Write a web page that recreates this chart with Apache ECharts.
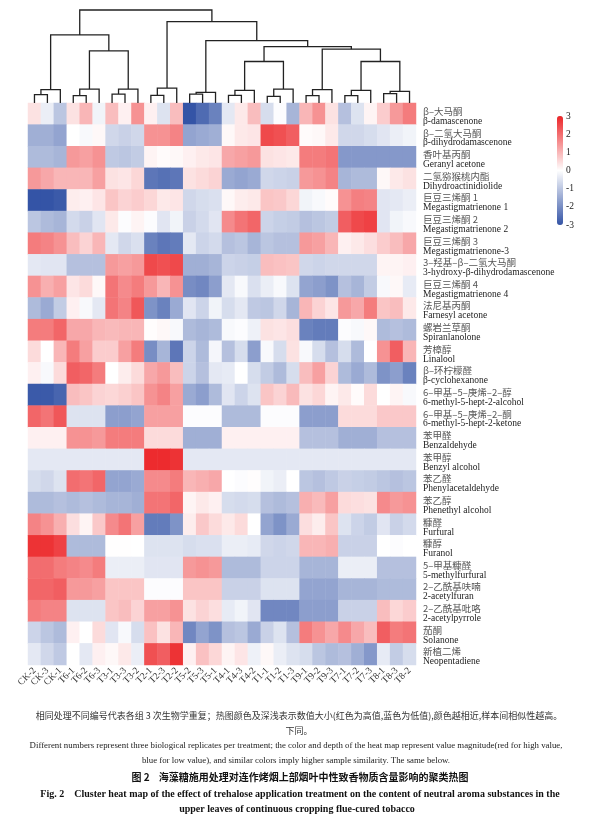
<!DOCTYPE html>
<html>
<head>
<meta charset="utf-8">
<title>聚类热图</title>
<script src="https://cdn.jsdelivr.net/npm/echarts/dist/echarts.min.js"></script>
<style>
  html, body { margin: 0; padding: 0; background: #fff; }
  #main { width: 589px; height: 824px; }
</style>
</head>
<body>
<div id="main"></div>
<script>
// column order after clustering
var samples = ['CK-2', 'CK-3', 'CK-1', 'T6-1', 'T6-2', 'T6-3', 'T3-1', 'T3-3', 'T3-2',
  'T2-1', 'T2-3', 'T2-2', 'T5-2', 'T5-3', 'T5-1', 'T4-1', 'T4-3', 'T4-2',
  'T1-1', 'T1-2', 'T1-3', 'T9-1', 'T9-2', 'T9-3', 'T7-1', 'T7-2', 'T7-3',
  'T8-1', 'T8-3', 'T8-2'];

var namesCn = ['β–大马酮', 'β–二氢大马酮', '香叶基丙酮', '二氢猕猴桃内酯', '巨豆三烯酮 1',
  '巨豆三烯酮 2', '巨豆三烯酮 3', '3–羟基–β–二氢大马酮', '巨豆三烯酮 4', '法尼基丙酮',
  '螺岩兰草酮', '芳樟醇', 'β–环柠檬醛', '6–甲基–5–庚烯–2–醇', '6–甲基–5–庚烯–2–酮',
  '苯甲醛', '苯甲醇', '苯乙醛', '苯乙醇', '糠醛', '糠醇', '5–甲基糠醛', '2–乙酰基呋喃',
  '2–乙酰基吡咯', '茄酮', '新植二烯'];

var namesEn = ['β-damascenone', 'β-dihydrodamascenone', 'Geranyl acetone', 'Dihydroactinidiolide',
  'Megastigmatrienone 1', 'Megastigmatrienone 2', 'Megastigmatrienone-3',
  '3-hydroxy-β-dihydrodamascenone', 'Megastigmatrienone 4', 'Farnesyl acetone',
  'Spiranlanolone', 'Linalool', 'β-cyclohexanone', '6-methyl-5-hept-2-alcohol',
  '6-methyl-5-hept-2-ketone', 'Benzaldehyde', 'Benzyl alcohol', 'Phenylacetaldehyde',
  'Phenethyl alcohol', 'Furfural', 'Furanol', '5-methylfurfural', '2-acetylfuran',
  '2-acetylpyrrole', 'Solanone', 'Neopentadiene'];

// z-scores, one row per compound, columns in sample order
var values = [
  [0.4, -0.3, -1.0, 0.4, 1.0, -0.2, 0.9, 0.2, 1.5, 0.2, -0.5, 0.9, -3, -2.6, -2.2, -0.4, 0.3, 0.9, -0.6, -0.05, -1.3, 1.0, 1.5, 0.4, -1.1, -0.5, 0.15, 0.7, 1.4, 1.8],
  [-1.4, -1.4, -1.6, 0, -0.1, 0.1, -0.7, -0.8, -0.7, 1.5, 1.5, 1.7, -1.6, -1.5, -1.4, 0.1, 0.3, 0.35, 2.5, 2.4, 2.2, 0.05, 0.1, 0.3, -0.7, -0.7, -0.6, -0.45, -0.3, -0.2],
  [-1.2, -1.2, -1.3, 1.4, 1.3, 1.5, -0.95, -1.0, -0.9, 0.15, 0.05, 0.1, 0.2, 0.3, 0.35, 1.2, 1.3, 1.4, 0.4, 0.35, 0.3, 1.8, 1.8, 1.9, -1.8, -1.8, -1.8, -1.8, -1.8, -1.8],
  [1.4, 1.2, 1.0, 1.0, 1.0, 1.3, 0.4, 0.35, 0.55, -2.4, -2.5, -2.4, 0.4, 0.5, 0.6, -1.5, -1.6, -1.5, -0.7, -0.75, -0.8, 1.4, 1.5, 1.7, -1.3, -1.2, -1.2, 0.1, 0.3, 0.4],
  [-3, -3, -2.9, 0.25, 0.2, 0.35, 0.8, 0.6, 0.7, 0.55, 0.3, 0.35, -0.7, -0.6, -0.55, 0.1, 0.25, 0.3, 0.8, 0.75, 0.55, -0.2, -0.1, 0.05, 1.5, 1.75, 1.7, -0.45, -0.4, -0.3],
  [-1.0, -1.2, -1.3, -0.65, -0.8, -0.45, 0.3, -0.05, 0.15, -0.05, -0.45, -0.2, -0.8, -0.65, -0.45, 1.6, 1.9, 2.1, -0.75, -0.85, -0.9, -1.1, -1.0, -0.9, 2.2, 2.5, 2.6, -0.45, -0.2, -0.1],
  [1.8, 1.7, 1.5, 0.9, 0.6, 1.0, -0.4, -0.7, -0.55, -2.2, -2.4, -2.3, -0.4, -0.75, -0.65, -1.1, -1.0, -1.3, -1.0, -1.1, -1.1, 1.4, 1.3, 1.0, 0.2, 0.3, 0.45, 0.7, 0.9, 1.2],
  [-0.4, -0.45, -0.45, -1.1, -1.1, -1.1, 1.4, 1.3, 1.4, 2.5, 2.4, 2.5, -1.4, -1.4, -1.3, -0.75, -0.8, -0.85, 0.9, 0.85, 0.8, -0.7, -0.75, -0.7, -0.7, -0.7, -0.7, 0.15, 0.15, 0.2],
  [1.5, 1.1, 1.3, 0.35, 0.5, 0.1, 1.9, 1.6, 1.8, 1.4, 1.0, 1.5, -2.0, -2.1, -1.7, -0.4, -0.1, -0.55, -0.3, -0.1, -0.5, -1.6, -1.7, -1.9, -1.1, -1.3, -0.9, -0.1, 0.1, -0.35],
  [-1.2, -1.5, -0.9, 0.2, -0.1, -0.4, 1.9, 1.7, 2.3, -1.9, -2.2, -1.5, -0.45, -0.75, -0.2, -0.6, -0.4, -0.95, -1.0, -0.7, -1.3, 1.0, 0.6, 0.35, 1.4, 1.2, 1.8, 0.8, 0.9, 0.3],
  [1.8, 1.8, 2.1, 1.2, 1.2, 1.0, 0.95, 1.0, 1.0, 0.03, 0.1, -0.1, -1.2, -1.3, -1.2, -0.1, -0.05, -0.25, 0.4, 0.35, 0.45, -2.2, -2.3, -2.3, -0.05, -0.1, 0.1, -1.2, -1.1, -1.2],
  [0.5, 0, 1.0, 1.8, 1.3, 0.7, 0.7, 1.3, 1.8, -2.0, -1.3, -2.4, -0.75, -1.2, -0.15, -1.1, -0.6, -1.7, -0.1, -0.6, 0.4, -0.1, -0.6, -1.1, -0.6, -1.2, 0, 1.5, 2.2, 1.0],
  [0.2, -0.1, 0.5, 2.2, 2.1, 1.8, 0, 0.25, 0.5, 1.2, 1.4, 0.9, -0.75, -1.1, -0.4, -0.35, 0, -0.6, -0.9, -1.2, -0.6, 0.9, 1.3, 0.6, -1.2, -1.5, -1.2, -1.9, -1.7, -2.2],
  [-2.9, -2.9, -2.7, 0.9, 0.8, 0.6, 0.55, 0.65, 0.8, 1.5, 1.7, 1.3, -1.5, -1.7, -1.2, -0.45, -0.75, -0.5, 0.8, 0.6, 0.95, 0.4, 0.55, 0.15, 0.3, 0.05, 0.5, 0, 0.15, -0.1],
  [2.1, 1.9, 2.3, -0.5, -0.5, -0.5, -1.7, -1.7, -1.6, 1.3, 1.3, 1.3, -0.05, -0.05, -0.05, -1.2, -1.2, -1.2, -0.05, -0.05, -0.05, -1.7, -1.7, -1.7, 0.5, 0.5, 0.5, 0.75, 0.75, 0.75],
  [0.2, 0.2, 0.2, 1.5, 1.5, 1.4, 1.8, 1.8, 1.8, 0.5, 0.5, 0.5, -1.4, -1.4, -1.4, 0.2, 0.2, 0.2, 0.2, 0.2, 0.2, -1.1, -1.1, -1.1, -1.4, -1.4, -1.4, -1.1, -1.1, -1.1],
  [-0.4, -0.4, -0.4, -0.4, -0.4, -0.4, -0.4, -0.4, -0.4, 2.9, 2.9, 2.8, -0.4, -0.4, -0.4, -0.4, -0.4, -0.4, -0.4, -0.4, -0.4, -0.4, -0.4, -0.4, -0.4, -0.4, -0.4, -0.4, -0.4, -0.4],
  [-0.6, -0.7, -0.5, 2.0, 1.9, 2.1, -1.6, -1.6, -1.5, 1.6, 1.6, 1.8, 1.0, 1.1, 1.2, 0, -0.05, 0.03, -0.2, -0.3, 0, -1.0, -1.1, -0.95, -0.8, -0.85, -0.9, -1.0, -1.1, -1.0],
  [-1.2, -1.2, -1.1, -1.2, -1.1, -1.2, -1.3, -1.3, -1.4, 1.9, 1.9, 2.1, 0.15, 0.3, 0.2, -0.6, -0.65, -0.6, -1.1, -1.2, -1.1, 1.1, 0.95, 1.3, 0.5, 0.45, 0.4, 1.6, 1.4, 1.5],
  [1.7, 1.5, 1.1, 0.45, 0.15, 0.75, 1.6, 1.9, 1.3, -2.3, -2.3, -1.9, 0.25, 0.75, 0.5, 0.3, 0.5, 0, -1.6, -1.9, -1.5, 0.45, 0.25, 0.8, -0.5, -0.75, -0.9, -0.45, -0.8, -0.65],
  [2.8, 2.8, 2.6, -1.2, -1.2, -1.2, 0.02, 0.02, 0, -0.5, -0.5, -0.5, -0.6, -0.55, -0.55, -0.3, -0.3, -0.35, -0.7, -0.75, -0.7, 1.0, 1.0, 1.1, -0.8, -0.8, -0.8, 0, -0.05, 0],
  [2.0, 2.0, 1.8, 1.7, 1.6, 1.8, -0.3, -0.3, -0.3, -0.45, -0.45, -0.45, 1.4, 1.5, 1.4, -1.2, -1.2, -1.2, -0.75, -0.75, -0.75, -1.3, -1.3, -1.3, -0.3, -0.3, -0.3, -1.1, -1.1, -1.1],
  [2.1, 2.1, 2.2, 1.4, 1.4, 1.3, 0.8, 0.8, 0.8, -0.05, -0.05, -0.05, 0.8, 0.8, 0.8, -0.8, -0.8, -0.8, -0.5, -0.5, -0.5, -1.6, -1.6, -1.6, -1.3, -1.3, -1.3, -1.2, -1.2, -1.2],
  [1.8, 1.7, 1.7, -0.5, -0.5, -0.5, 0.8, 0.9, 0.6, 1.3, 1.3, 1.5, 0.4, 0.6, 0.45, -0.35, -0.2, -0.45, -2.1, -2.1, -2.1, -1.7, -1.7, -1.7, -0.8, -0.8, -0.8, 0.9, 0.55, 0.7],
  [-0.75, -1.0, -1.2, 0.2, 0, 0.5, -0.45, -0.1, -0.6, 0.85, 0.4, 1.0, -2.1, -1.6, -1.9, -1.1, -1.0, -1.5, -0.8, -0.5, -1.1, 1.8, 1.5, 1.2, 1.6, 1.2, 0.9, 2.2, 1.8, 1.9],
  [-0.4, -0.7, -0.95, 0, -0.4, 0.2, 0.1, 0.3, -0.3, 2.4, 2.2, 2.8, 0.2, 0.85, 0.55, 0.15, 0.35, -0.25, 0.1, -0.3, -0.5, -0.6, -1.0, -1.2, -1.1, -1.4, -1.8, -0.35, -0.9, -0.6]
];

// column linkage: [node a, node b, height]; leaves 0-29, merges numbered from 30
var linkage = [
  [0, 1, 0.89], [30, 2, 1.43],
  [3, 4, 0.79], [32, 5, 1.5],
  [6, 7, 0.96], [34, 8, 1.5],
  [33, 35, 5.6], [31, 36, 7.32],
  [9, 10, 0.82], [38, 11, 1.61],
  [12, 13, 0.96], [40, 14, 1.14],
  [15, 16, 0.82], [42, 17, 1.36],
  [18, 19, 0.71], [44, 20, 1.5],
  [43, 45, 4.46],
  [21, 22, 0.79], [47, 23, 1.43],
  [24, 25, 0.79], [49, 26, 1.36],
  [27, 28, 1.0], [51, 29, 1.25],
  [50, 52, 4.46], [48, 53, 5.79],
  [46, 54, 6.07], [41, 55, 6.71],
  [39, 56, 8.75], [37, 57, 10]
];

var scaleColors = ['#3454a6', '#ffffff', '#ec2427'];

var serif = '"Liberation Serif", "DejaVu Serif", serif';
var cjk = '"Noto Sans CJK SC", sans-serif';

// heatmap cells
var heatData = [];
for (var r = 0; r < values.length; r++) {
  for (var c = 0; c < samples.length; c++) {
    heatData.push([c, r, values[r][c]]);
  }
}

// one U per merge: [xa, ha, xb, hb, h]
function dendroSegments() {
  var pos = [], hgt = [];
  for (var i = 0; i < samples.length; i++) {
    pos.push(i);
    hgt.push(0);
  }
  var segs = [];
  linkage.forEach(function (m) {
    var a = m[0], b = m[1], h = m[2];
    segs.push([pos[a], hgt[a], pos[b], hgt[b], h]);
    pos.push((pos[a] + pos[b]) / 2);
    hgt.push(h);
  });
  return segs;
}

var chart = echarts.init(document.getElementById('main'), null, { renderer: 'canvas' });

var option = {
  backgroundColor: '#fff',
  animation: false,
  grid: [
    { left: 28, top: 103, width: 388, height: 562 },   // heatmap
    { left: 28, top: 10, width: 388, height: 93 },     // dendrogram
    { left: 557, top: 116, width: 6, height: 109 }     // colour bar ticks
  ],
  xAxis: [
    {
      gridIndex: 0,
      type: 'category',
      data: samples,
      position: 'bottom',
      axisLine: { show: false },
      axisTick: { show: false },
      axisLabel: {
        rotate: 45,
        interval: 0,
        margin: 4,
        fontSize: 9.5,
        color: '#333',
        fontFamily: serif
      }
    },
    { gridIndex: 1, type: 'value', min: -0.5, max: samples.length - 0.5, show: false },
    { gridIndex: 2, type: 'value', show: false }
  ],
  yAxis: [
    {
      gridIndex: 0,
      type: 'category',
      data: namesEn,
      inverse: true,
      position: 'right',
      axisLine: { show: false },
      axisTick: { show: false },
      axisLabel: {
        interval: 0,
        margin: 7,
        padding: [5, 0, 0, 0],
        formatter: function (value, index) {
          return '{cn|' + namesCn[index] + '}\n{en|' + value + '}';
        },
        rich: {
          cn: { fontSize: 9.5, lineHeight: 10, color: '#555', fontFamily: cjk },
          en: { fontSize: 9.5, lineHeight: 10, color: '#222', fontFamily: serif }
        }
      }
    },
    { gridIndex: 1, type: 'value', min: 0, max: 10, show: false },
    {
      gridIndex: 2,
      type: 'value',
      min: -3,
      max: 3,
      interval: 1,
      position: 'right',
      axisLine: { show: false },
      axisTick: { show: false },
      splitLine: { show: false },
      axisLabel: { margin: 3, fontSize: 9.5, color: '#222', fontFamily: serif }
    }
  ],
  visualMap: {
    type: 'continuous',
    seriesIndex: 0,
    min: -3,
    max: 3,
    orient: 'vertical',
    left: 557,
    top: 116,
    itemWidth: 6,
    itemHeight: 109,
    padding: 0,
    calculable: false,
    inRange: { color: scaleColors }
  },
  series: [
    {
      type: 'heatmap',
      xAxisIndex: 0,
      yAxisIndex: 0,
      data: heatData,
      itemStyle: { borderWidth: 0 }
    },
    {
      type: 'custom',
      xAxisIndex: 1,
      yAxisIndex: 1,
      data: dendroSegments(),
      encode: { x: [0, 2], y: [1, 3, 4] },
      renderItem: function (params, api) {
        var p1 = api.coord([api.value(0), api.value(1)]);
        var p2 = api.coord([api.value(0), api.value(4)]);
        var p3 = api.coord([api.value(2), api.value(4)]);
        var p4 = api.coord([api.value(2), api.value(3)]);
        return {
          type: 'polyline',
          shape: { points: [p1, p2, p3, p4] },
          style: { stroke: '#222', lineWidth: 1.3, fill: 'none' }
        };
      }
    }
  ],
  graphic: [
    {
      type: 'text', x: 299, y: 716,
      style: {
        text: '相同处理不同编号代表各组 3 次生物学重复；热图颜色及深浅表示数值大小(红色为高值,蓝色为低值),颜色越相近,样本间相似性越高。',
        font: '9px ' + cjk, fill: '#333', textAlign: 'center', textVerticalAlign: 'middle'
      }
    },
    {
      type: 'text', x: 299, y: 731,
      style: { text: '下同。', font: '9px ' + cjk, fill: '#333', textAlign: 'center', textVerticalAlign: 'middle' }
    },
    {
      type: 'text', x: 296, y: 746,
      style: {
        text: 'Different numbers represent three biological replicates per treatment; the color and depth of the heat map represent value magnitude(red for high value,',
        font: '8.8px ' + serif, fill: '#222', textAlign: 'center', textVerticalAlign: 'middle'
      }
    },
    {
      type: 'text', x: 296, y: 761,
      style: {
        text: 'blue for low value), and similar colors imply higher sample similarity. The same below.',
        font: '8.8px ' + serif, fill: '#222', textAlign: 'center', textVerticalAlign: 'middle'
      }
    },
    {
      type: 'text', x: 300, y: 777,
      style: {
        text: '图 2    海藻糖施用处理对连作烤烟上部烟叶中性致香物质含量影响的聚类热图',
        font: 'bold 10px ' + cjk, fill: '#111', textAlign: 'center', textVerticalAlign: 'middle'
      }
    },
    {
      type: 'text', x: 300, y: 794,
      style: {
        text: 'Fig. 2    Cluster heat map of the effect of trehalose application treatment on the content of neutral aroma substances in the',
        font: 'bold 10px ' + serif, fill: '#111', textAlign: 'center', textVerticalAlign: 'middle'
      }
    },
    {
      type: 'text', x: 297, y: 809,
      style: {
        text: 'upper leaves of continuous cropping flue-cured tobacco',
        font: 'bold 10px ' + serif, fill: '#111', textAlign: 'center', textVerticalAlign: 'middle'
      }
    }
  ]
};

chart.setOption(option);
</script>
</body>
</html>
